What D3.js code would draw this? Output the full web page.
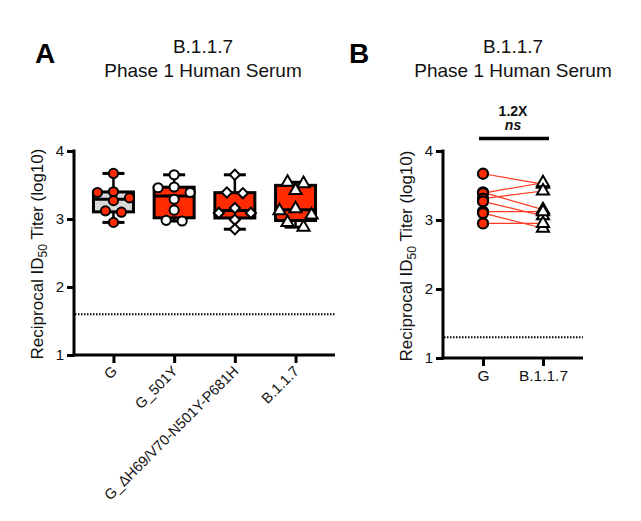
<!DOCTYPE html>
<html>
<head>
<meta charset="utf-8">
<script src="https://cdn.jsdelivr.net/npm/d3@7"></script>
<style>
  html, body { margin: 0; padding: 0; background: #fff; }
  svg { display: block; font-family: "Liberation Sans", Arial, sans-serif; }
</style>
</head>
<body>
<svg id="chart" width="641" height="521"></svg>
<script>
// ---------- data ----------
const titleLines = ["B.1.1.7", "Phase 1 Human Serum"];
const categoriesA = ["G", "G_501Y", "G_\u0394H69/V70-N501Y-P681H", "B.1.1.7"];
const valuesG      = [3.67, 3.40, 3.39, 3.31, 3.27, 3.12, 3.10, 2.95];
const valuesG501Y  = [3.65, 3.47, 3.46, 3.39, 3.29, 3.13, 2.98, 2.97];
const valuesGdH    = [3.65, 3.39, 3.38, 3.16, 3.09, 3.09, 2.99, 2.85];
const valuesB117   = [3.54, 3.52, 3.42, 3.15, 3.12, 3.06, 2.95, 2.88];
const categoriesB = ["G", "B.1.1.7"];
const pairedG    = [3.67, 3.40, 3.39, 3.31, 3.27, 3.12, 3.10, 2.95];
const pairedB117 = [3.52, 3.15, 3.54, 3.42, 3.06, 3.12, 2.88, 2.95];
const yTicks = [1, 2, 3, 4];
const limitA = 1.6;   // detection limit panel A (log10)
const limitB = 1.3;   // detection limit panel B (log10)
const foldText = "1.2X";
const sigText = "ns";

// ---------- styles ----------
const RED = "#ff2a00";
const svg = d3.select("#chart");

// panel labels
svg.append("text").attr("x", 35).attr("y", 63).attr("font-size", 28).attr("font-weight", "bold").text("A");
svg.append("text").attr("x", 349).attr("y", 63).attr("font-size", 28).attr("font-weight", "bold").text("B");

function title(cx) {
  titleLines.forEach((t, i) => {
    svg.append("text").attr("x", cx).attr("y", 53 + i * 24).attr("text-anchor", "middle")
      .attr("font-size", 19).attr("fill", "#111").text(t);
  });
}
title(203);
title(513);

function yLabel(x, cy) {
  const t = svg.append("text").attr("transform", `translate(${x},${cy}) rotate(-90)`)
    .attr("text-anchor", "middle").attr("font-size", 17).attr("fill", "#111");
  t.append("tspan").text("Reciprocal ID");
  t.append("tspan").attr("font-size", 12).attr("dy", 4).text("50");
  t.append("tspan").attr("dy", -4).text(" Titer (log10)");
}

function yAxis(g, y, x0) {
  const ax = g.append("g").attr("transform", `translate(${x0},0)`)
    .call(d3.axisLeft(y).tickValues(yTicks).tickFormat(d3.format("d")).tickSize(7).tickPadding(3));
  ax.select(".domain").attr("stroke", "#000").attr("stroke-width", 3).attr("d", `M0,${y.range()[1]-1.5}V${y.range()[0]+1.5}`);
  ax.selectAll(".tick line").attr("stroke", "#000").attr("stroke-width", 3);
  ax.selectAll(".tick text").attr("font-size", 15).attr("fill", "#111")
    .attr("font-family", "Liberation Sans, Arial, sans-serif");
}

// symbols
const sym = {
  circle: d3.symbol().type(d3.symbolCircle).size(66),
  circleB: d3.symbol().type(d3.symbolCircle).size(80),
  diamond: d3.symbol().type(d3.symbolSquare).size(52),
  triangle: d3.symbol().type(d3.symbolTriangle).size(64)
};

// simple row-based swarm: group close values into rows, spread them symmetrically
function swarm(values, y, rowPx, step) {
  const idx = values.map((v, i) => i).sort((a, b) => values[b] - values[a]);
  const rows = [];
  idx.forEach(i => {
    const py = y(values[i]);
    const last = rows[rows.length - 1];
    if (last && py - last.start <= rowPx) last.items.push(i);
    else rows.push({ start: py, items: [i] });
  });
  const off = new Array(values.length).fill(0);
  rows.forEach(r => {
    const n = r.items.length;
    if (n === 1) off[r.items[0]] = 0;
    else if (n === 2) { off[r.items[0]] = -step / 2; off[r.items[1]] = step / 2; }
    else {
      const order = [0, -1, 1, -2, 2, -3, 3];
      r.items.forEach((i, k) => off[i] = order[k] * step);
    }
  });
  return off;
}

function quantile(sorted, p) {
  // GraphPad-style (n+1)p interpolation
  const n = sorted.length, pos = (n + 1) * p;
  const lo = Math.floor(pos), frac = pos - lo;
  if (lo < 1) return sorted[0];
  if (lo >= n) return sorted[n - 1];
  return sorted[lo - 1] + frac * (sorted[lo] - sorted[lo - 1]);
}

// ---------- Panel A ----------
const gA = svg.append("g");
const yA = d3.scaleLinear().domain([1, 4]).range([355, 151]);
const xA = d3.scalePoint().domain(categoriesA).range([74, 335]).padding(0.65);

// detection limit
gA.append("line").attr("x1", 75).attr("x2", 335).attr("y1", yA(limitA)).attr("y2", yA(limitA))
  .attr("stroke", "#000").attr("stroke-width", 2).attr("stroke-dasharray", "1.5,1.5");

yAxis(gA, yA, 74);
yLabel(43, 254);

// x axis
const axA = gA.append("g").attr("transform", `translate(0,355)`)
  .call(d3.axisBottom(xA).tickSize(8).tickSizeOuter(0));
axA.select(".domain").attr("stroke", "#000").attr("stroke-width", 3).attr("d", "M72.5,0H335");
axA.selectAll(".tick line").attr("stroke", "#000").attr("stroke-width", 3);
axA.selectAll(".tick text").attr("font-size", 14.5).attr("fill", "#111")
  .attr("font-family", "Liberation Sans, Arial, sans-serif")
  .attr("text-anchor", "end").attr("dy", 0).attr("y", 0)
  .attr("transform", "translate(4,17) rotate(-45)");

const seriesA = [
  { values: valuesG,     boxFill: "#d9d9d9", ptFill: RED,    shape: "circle" },
  { values: valuesG501Y, boxFill: RED,       ptFill: "#fff", shape: "circle" },
  { values: valuesGdH,   boxFill: RED,       ptFill: "#fff", shape: "diamond" },
  { values: valuesB117,  boxFill: RED,       ptFill: "#fff", shape: "triangle" }
];
const boxW = 40, capW = 22;
seriesA.forEach((s, k) => {
  const cx = xA(categoriesA[k]);
  const sorted = s.values.slice().sort((a, b) => a - b);
  const q1 = quantile(sorted, 0.25), q3 = quantile(sorted, 0.75), med = quantile(sorted, 0.5);
  const mn = sorted[0], mx = sorted[sorted.length - 1];
  const g = gA.append("g");
  // whiskers
  g.append("line").attr("x1", cx).attr("x2", cx).attr("y1", yA(mx)).attr("y2", yA(q3)).attr("stroke", "#000").attr("stroke-width", 2.5);
  g.append("line").attr("x1", cx).attr("x2", cx).attr("y1", yA(q1)).attr("y2", yA(mn)).attr("stroke", "#000").attr("stroke-width", 2.5);
  g.append("line").attr("x1", cx - capW / 2).attr("x2", cx + capW / 2).attr("y1", yA(mx)).attr("y2", yA(mx)).attr("stroke", "#000").attr("stroke-width", 3);
  g.append("line").attr("x1", cx - capW / 2).attr("x2", cx + capW / 2).attr("y1", yA(mn)).attr("y2", yA(mn)).attr("stroke", "#000").attr("stroke-width", 3);
  // box
  g.append("rect").attr("x", cx - boxW / 2).attr("width", boxW).attr("y", yA(q3)).attr("height", yA(q1) - yA(q3))
    .attr("fill", s.boxFill).attr("stroke", "#000").attr("stroke-width", 3);
  g.append("line").attr("x1", cx - boxW / 2).attr("x2", cx + boxW / 2).attr("y1", yA(med)).attr("y2", yA(med)).attr("stroke", "#000").attr("stroke-width", 3);
  // points
  const off = swarm(s.values, yA, 8, 16);
  g.selectAll("path.pt").data(s.values).join("path").attr("class", "pt")
    .attr("d", sym[s.shape])
    .attr("transform", (d, i) => `translate(${cx + off[i]},${yA(d)})` + (s.shape === "diamond" ? " rotate(45)" : ""))
    .attr("fill", s.ptFill).attr("stroke", "#000").attr("stroke-width", 2);
});

// ---------- Panel B ----------
const gB = svg.append("g");
const yB = d3.scaleLinear().domain([1, 4]).range([358, 151]);
const xB = d3.scalePoint().domain(categoriesB).range([443, 583]).padding(0.667);

gB.append("line").attr("x1", 444).attr("x2", 583).attr("y1", yB(limitB)).attr("y2", yB(limitB))
  .attr("stroke", "#000").attr("stroke-width", 2).attr("stroke-dasharray", "1.5,1.5");

yAxis(gB, yB, 443);
yLabel(412, 256);

const axB = gB.append("g").attr("transform", `translate(0,358)`)
  .call(d3.axisBottom(xB).tickSize(8).tickSizeOuter(0).tickPadding(4));
axB.select(".domain").attr("stroke", "#000").attr("stroke-width", 3).attr("d", "M441.5,0H583");
axB.selectAll(".tick line").attr("stroke", "#000").attr("stroke-width", 3);
axB.selectAll(".tick text").attr("font-size", 15.5).attr("fill", "#111")
  .attr("font-family", "Liberation Sans, Arial, sans-serif");

// paired lines
const xg = xB("G"), xb = xB("B.1.1.7");
gB.selectAll("line.pair").data(pairedG).join("line").attr("class", "pair")
  .attr("x1", xg).attr("x2", xb)
  .attr("y1", d => yB(d)).attr("y2", (d, i) => yB(pairedB117[i]))
  .attr("stroke", "#ff3b22").attr("stroke-width", 1.2);
gB.selectAll("path.pg").data(pairedG).join("path").attr("class", "pg")
  .attr("d", sym.circleB).attr("transform", d => `translate(${xg},${yB(d)})`)
  .attr("fill", RED).attr("stroke", "#000").attr("stroke-width", 2.2);
gB.selectAll("path.pb").data(pairedB117).join("path").attr("class", "pb")
  .attr("d", sym.triangle).attr("transform", d => `translate(${xb},${yB(d)})`)
  .attr("fill", "#fff").attr("stroke", "#000").attr("stroke-width", 2);

// significance annotation
gB.append("line").attr("x1", xg - 4).attr("x2", xb + 6).attr("y1", 138.5).attr("y2", 138.5)
  .attr("stroke", "#000").attr("stroke-width", 3.5);
gB.append("text").attr("x", (xg + xb) / 2).attr("y", 115.5).attr("text-anchor", "middle")
  .attr("font-size", 14).attr("font-weight", "bold").attr("fill", "#111").text(foldText);
gB.append("text").attr("x", (xg + xb) / 2).attr("y", 130).attr("text-anchor", "middle")
  .attr("font-size", 14).attr("font-style", "italic").attr("font-weight", "bold").attr("fill", "#111").text(sigText);
</script>
</body>
</html>
